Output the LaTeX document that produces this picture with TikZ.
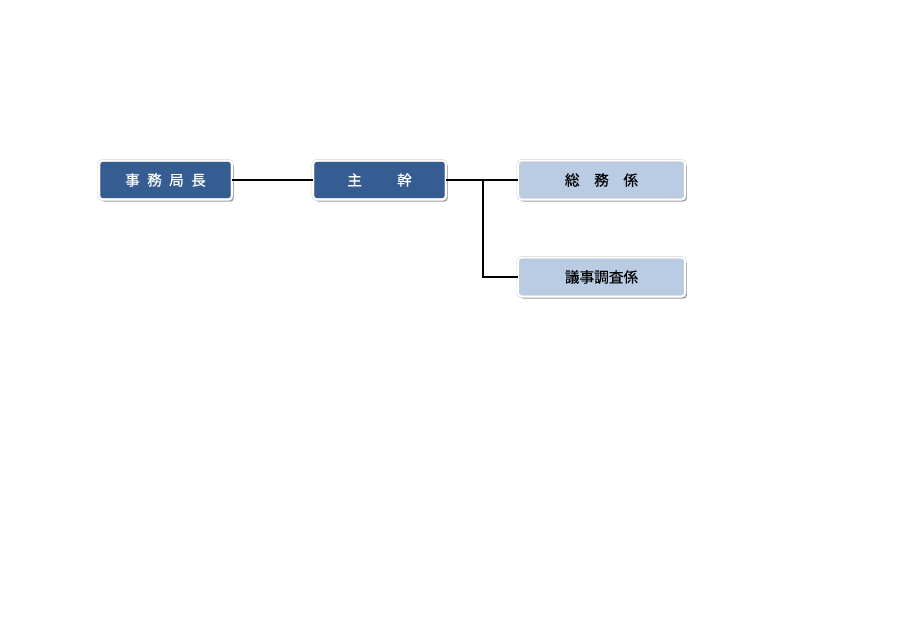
\documentclass[tikz,border=0pt]{standalone}
\usepackage{fontspec}
\usepackage{xcolor}
\usetikzlibrary{shadows}
\newfontfamily\jpfont[FakeBold=0.3]{Noto Sans CJK JP}
\definecolor{bossblue}{HTML}{365D92}
\definecolor{staffblue}{HTML}{B9CCE4}

\begin{document}
\begin{tikzpicture}[x=0.03cm, y=-0.03cm,
     box/.style={rectangle, rounded corners=3pt, draw=gray!35, double=white,
        double distance=1.5pt, minimum height=1.17cm, inner sep=0pt,
        font=\jpfont\fontsize{12.5}{14}\selectfont,
        drop shadow={shadow xshift=1.5pt, shadow yshift=-1.8pt, fill=gray!80, opacity=1}},
     head/.style={box, fill=bossblue, text=white, minimum width=3.99cm},
     unit/.style={box, fill=staffblue, text=black, minimum width=5.01cm},
     link/.style={line width=2.1pt, black}]
\useasboundingbox (0,0) rectangle (900,636);
    %boxes
    \node[head] (chief) at (165.5,180) {事\hspace{0.5em}務\hspace{0.5em}局\hspace{0.5em}長};
    \node[head] (director) at (379.5,180) {主\hspace{2.4em}幹};
    \node[unit] (general) at (601.5,180) {総\hspace{1em}務\hspace{1em}係};
    \node[unit] (research) at (601.5,277) {議事調査係};
    % links
    \coordinate (split) at (483,180);
    \draw[link] (chief) -- (director);
    \draw[link] (director) -- (general);
    \draw[link] (split) |- (research);
\end{tikzpicture}
\end{document}
